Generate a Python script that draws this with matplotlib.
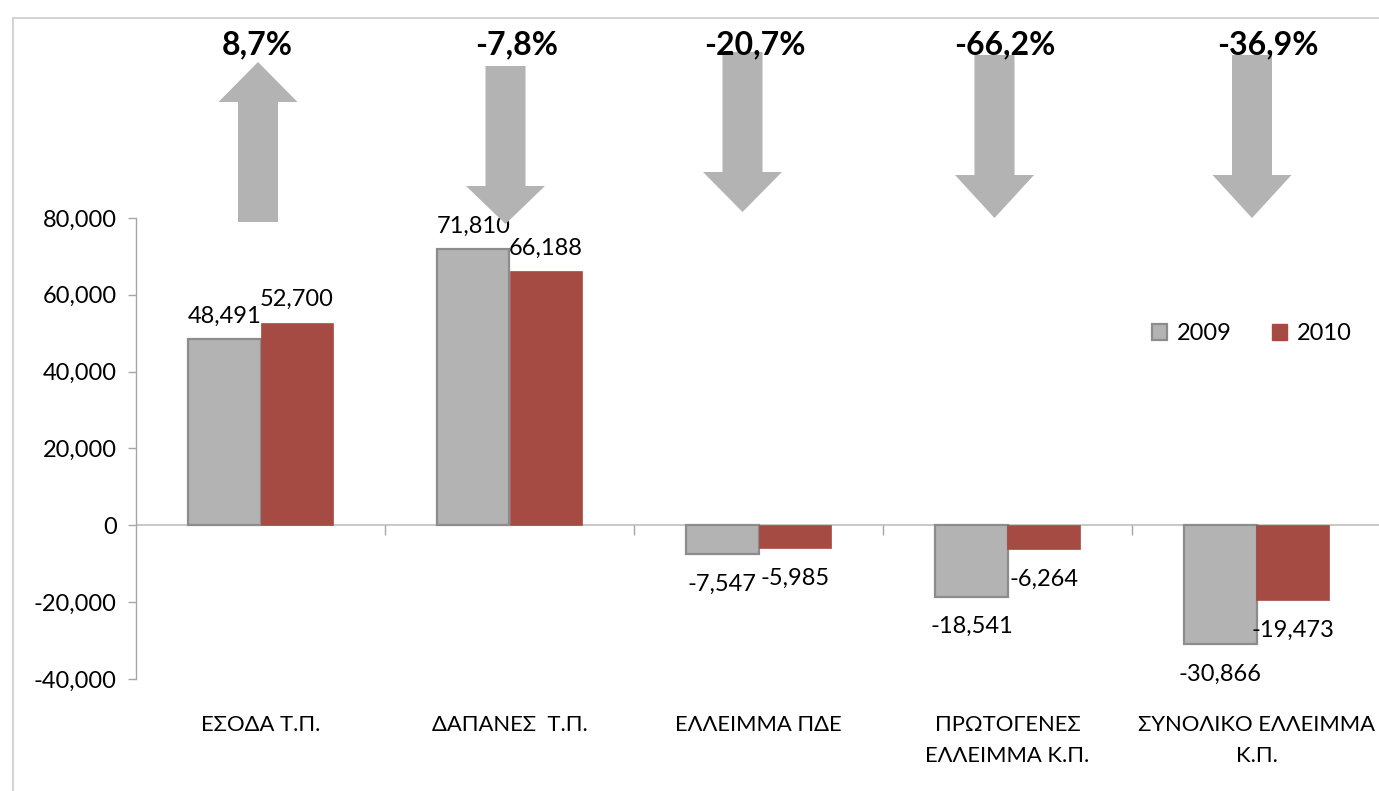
import matplotlib
matplotlib.use("Agg")
import matplotlib.pyplot as plt
import numpy as np
from matplotlib.patches import Polygon, Patch
from matplotlib.lines import Line2D
from matplotlib.ticker import FuncFormatter

# ---------------- data ----------------
categories = ["ΕΣΟΔΑ Τ.Π.", "ΔΑΠΑΝΕΣ  Τ.Π.", "ΕΛΛΕΙΜΜΑ ΠΔΕ",
              "ΠΡΩΤΟΓΕΝΕΣ\nΕΛΛΕΙΜΜΑ Κ.Π.", "ΣΥΝΟΛΙΚΟ ΕΛΛΕΙΜΜΑ\nΚ.Π."]
values_2009 = [48491, 71810, -7547, -18541, -30866]
values_2010 = [52700, 66188, -5985, -6264, -19473]
series_labels = ["2009", "2010"]
y_ticks = [-40000, -20000, 0, 20000, 40000, 60000, 80000]

# ---------------- style ----------------
W, H = 1379, 791
plt.rcParams['font.family'] = ['Lato', 'Open Sans', 'DejaVu Sans']
FS = 17
grey_fill = "#b3b3b3"
grey_edge = "#8c8c8c"
red_fill = "#a64a44"
axis_col = "#a6a6a6"

fig = plt.figure(figsize=(W / 100, H / 100), dpi=100)

def fx(px):
    return px / W

def fy(py):
    return 1 - py / H

# plot area (extends past right edge like the reference)
left_px, right_px, top_px, bot_px = 136, 1381, 218, 679
ax = fig.add_axes([fx(left_px), fy(bot_px), fx(right_px) - fx(left_px), fy(top_px) - fy(bot_px)])
ax.set_facecolor("none")

n = len(categories)
x = np.arange(n)
bw = 0.29
off = 0.145
b1 = ax.bar(x - off, values_2009, width=bw, color=grey_fill, edgecolor=grey_edge, linewidth=1.6, zorder=3)
b2 = ax.bar(x + off, values_2010, width=bw, color=red_fill, edgecolor=red_fill, linewidth=0.5, zorder=3)

ax.set_xlim(-0.5, n - 0.5)
ax.set_ylim(-40000, 80000)
ax.set_yticks(y_ticks)
ax.yaxis.set_major_formatter(FuncFormatter(lambda v, p: f"{v:,.0f}"))
ax.tick_params(axis='y', length=6, width=1, color=axis_col, labelsize=FS, pad=8)
for s in ["top", "right", "bottom"]:
    ax.spines[s].set_visible(False)
ax.spines["left"].set_color(axis_col)
ax.spines["left"].set_linewidth(1)

# zero line and category boundary ticks
ax.axhline(0, color="#bfbfbf", lw=1.2, zorder=2)
ax.vlines(np.arange(0.5, n - 0.5, 1.0), -2600, 0, color=axis_col, lw=1, zorder=2)

ax.set_xticks(x)
ax.set_xticklabels(categories, fontsize=15.8, linespacing=1.65)
ax.tick_params(axis='x', length=0, pad=26)

# data labels
def label(bars, vals):
    for rect, v in zip(bars, vals):
        cx = rect.get_x() + rect.get_width() / 2
        if v >= 0:
            ax.annotate(f"{v:,}", (cx, v), xytext=(0, 12), textcoords="offset points",
                        ha="center", va="baseline", fontsize=FS, zorder=4)
        else:
            ax.annotate(f"{v:,}", (cx, v), xytext=(0, -14), textcoords="offset points",
                        ha="center", va="top", fontsize=FS, zorder=4)

label(b1, values_2009)
label(b2, values_2010)

# legend
handles = [Patch(facecolor=grey_fill, edgecolor=grey_edge, linewidth=1.6),
           Patch(facecolor=red_fill, edgecolor=red_fill)]
fig.legend(handles, series_labels, loc="center left", bbox_to_anchor=(fx(1152), fy(334)),
           ncol=2, frameon=False, fontsize=FS, handlelength=0.65, handleheight=0.65,
           handletextpad=0.4, columnspacing=1.7, borderaxespad=0, borderpad=0)

# outer chart border
fig.add_artist(Line2D([fx(13), fx(13)], [fy(18), fy(H + 5)], transform=fig.transFigure, color="#d0d0d0", lw=1.3))
fig.add_artist(Line2D([fx(13), fx(W + 5)], [fy(18), fy(18)], transform=fig.transFigure, color="#d0d0d0", lw=1.3))

# change arrows + percentage labels (computed from data)
arrow_cx = [258, 505.5, 742.5, 994.5, 1252]
arrow_geom = [(222, 102, 62), (66, 186, 224), (52, 172, 212), (55, 175, 218), (55, 175, 218)]
pct_cx = [257, 517, 755, 1005, 1268]
shaft_hw, head_hw = 20, 39.5
for i in range(n):
    pct = (values_2010[i] / values_2009[i] - 1) * 100
    cx = arrow_cx[i]
    a, b, c = arrow_geom[i]
    # a: shaft end, b: head base, c: tip
    pts = [(cx - shaft_hw, a), (cx - shaft_hw, b), (cx - head_hw, b), (cx, c),
           (cx + head_hw, b), (cx + shaft_hw, b), (cx + shaft_hw, a)]
    poly = Polygon([(fx(px), fy(py)) for px, py in pts], closed=True, transform=fig.transFigure,
                   facecolor="#b3b3b3", edgecolor="none", zorder=5)
    fig.add_artist(poly)
    txt = f"{pct:.1f}%".replace(".", ",")
    fig.text(fx(pct_cx[i]), fy(54), txt, ha="center", va="baseline", fontsize=23,
             fontweight="bold", zorder=6)

fig.savefig("out.png", dpi=100)
